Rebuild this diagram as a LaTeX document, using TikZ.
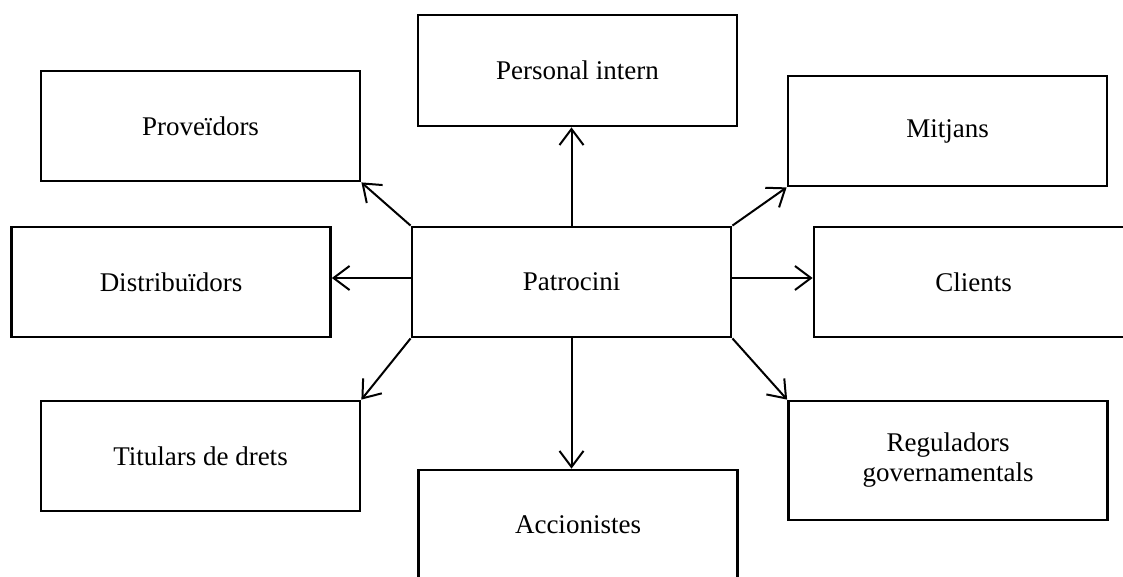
\documentclass[tikz,border=0pt]{standalone}
\usepackage{fontspec}
\setmainfont{Liberation Serif}
\usetikzlibrary{arrows.meta}
\begin{document}
\begin{tikzpicture}[x=1pt,y=-1pt,
  box/.style={draw, line width=2.8pt, rectangle, minimum width=319pt,
    minimum height=110pt, inner sep=0pt, align=center,
    font=\fontsize{27}{30}\selectfont},
  link/.style={line width=2pt, -{Straight Barb[length=16pt,width=24pt]}}]
\useasboundingbox (0,0) rectangle (1123,577);
\clip (0,0) rectangle (1123,577);

% stakeholder boxes
\node[box] (pat)  at (571.5,282) {Patrocini};
\node[box] (prov) at (200.5,126) {Proveïdors};
\node[box, minimum height=111pt] (pers) at (577.5,70.5) {Personal intern};
\node[box] (mitj) at (947.5,131) {Mitjans};
\node[box] (dist) at (171,282) {Distribuïdors};
\node[box] (cli)  at (973.5,282) {Clients};
\node[box] (tit)  at (200.5,456) {Titulars de drets};
\node[box] (acc)  at (578,525) {Accionistes};
\node[box, minimum height=119pt] (reg) at (948,460.5) {Reguladors\\governamentals};

% links from the sponsor to each group
\draw[link] (pat.north west) -- (prov.south east);
\draw[link] (pat.north) -- (pat.north |- pers.south);
\draw[link] (pat.north east) -- (mitj.south west);
\draw[link] ([yshift=4pt]pat.west) -- ([yshift=4pt]pat.west -| dist.east);
\draw[link] ([yshift=4pt]pat.east) -- ([yshift=4pt]pat.east -| cli.west);
\draw[link] (pat.south west) -- (tit.north east);
\draw[link] (pat.south) -- (pat.south |- acc.north);
\draw[link] (pat.south east) -- (reg.north west);
\end{tikzpicture}
\end{document}
